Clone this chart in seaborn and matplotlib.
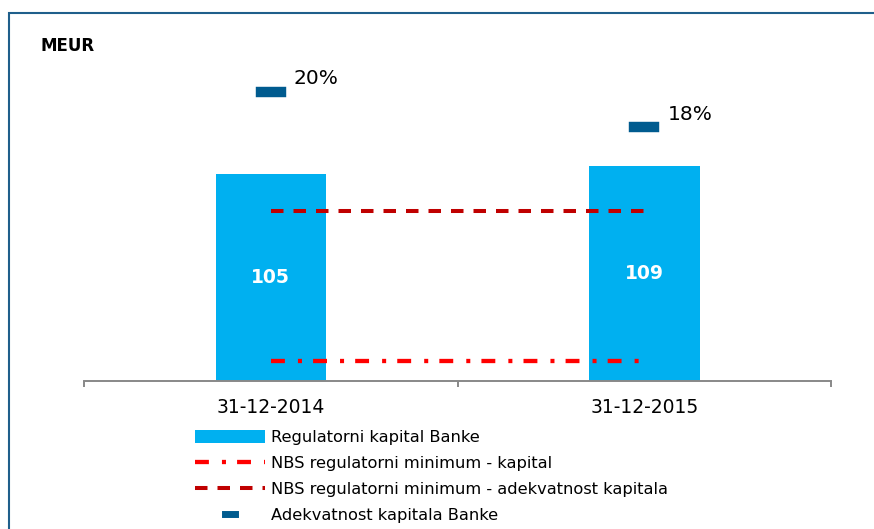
import numpy as np
import pandas as pd
import seaborn as sns
import matplotlib.pyplot as plt
from matplotlib.markers import MarkerStyle
from matplotlib.patches import Rectangle

# values
dates = ['31-12-2014', '31-12-2015']
kapital = [105, 109]              # MEUR, left axis
nbs_min_kapital = [10, 10]        # MEUR, left axis
nbs_min_adekvatnost = [12, 12]    # %, right axis
adekvatnost = [20.4, 17.9]        # %, right axis

legend_labels = ['Regulatorni kapital Banke',
                 'NBS regulatorni minimum - kapital',
                 'NBS regulatorni minimum - adekvatnost kapitala',
                 'Adekvatnost kapitala Banke']

sns.set_style('white')
plt.rcParams['font.family'] = ['DejaVu Sans']
plt.rcParams['lines.scale_dashes'] = False
plt.rcParams['text.color'] = 'black'
plt.rcParams['xtick.color'] = 'black'

df = pd.DataFrame({'datum': dates, 'kapital': kapital, 'min_kap': nbs_min_kapital,
                   'min_adek': nbs_min_adekvatnost, 'adek': adekvatnost})

fig = plt.figure(figsize=(8.74, 5.29), dpi=100)
ax = fig.add_axes([0.0961, 0.2798, 0.855, 0.6446])
ax2 = ax.twinx()

# bars - regulatory capital
sns.barplot(data=df, x='datum', y='kapital', ax=ax, color='#00B0F0',
            saturation=1, width=0.295, linewidth=0, errorbar=None)
bars = ax.containers[0]
ax.bar_label(bars, labels=[str(v) for v in kapital], label_type='center',
             color='white', fontweight='bold', fontsize=13.5)

# NBS minimum capital (dash-dot)
sns.pointplot(data=df, x='datum', y='min_kap', ax=ax, color='#FF0000',
              marker='', linestyle=(0, (10, 9.4, 2.9, 8)), linewidth=3.1,
              errorbar=None)
line_kap = ax.lines[-1]

# NBS minimum adequacy (dashed)
sns.pointplot(data=df, x='datum', y='min_adek', ax=ax2, color='#C00000',
              marker='', linestyle=(0, (9, 7.2)), linewidth=2.9,
              errorbar=None)
line_adek_min = ax2.lines[-1]

# bank capital adequacy markers
sns.pointplot(data=df, x='datum', y='adek', ax=ax2, color='#005B8F',
              linestyle='none', marker=MarkerStyle('_', capstyle='projecting'),
              markersize=14.6, markeredgewidth=7.5, errorbar=None)
line_adek = ax2.lines[-1]

for i, v in enumerate(adekvatnost):
    ax2.annotate(f'{v:.0f}%', xy=(i, v), xytext=(16.6, 9.4),
                 textcoords='offset points', ha='left', va='center',
                 fontsize=14.5, color='black')

# axes limits and ticks
ax.set_xlim(-0.5, len(dates) - 0.5)
ax.set_ylim(0, 173.0)
ax2.set_ylim(0, 24.07)
ax.set_xticks(np.arange(len(dates) + 1) - 0.5, labels=[''] * (len(dates) + 1))
ax.set_xticks(np.arange(len(dates)), labels=dates, minor=True)
ax.tick_params(axis='x', which='major', bottom=True, length=4.3, width=1.4,
               color='#888888', direction='out')
ax.tick_params(axis='x', which='minor', bottom=True, length=0, pad=12,
               labelsize=13.5, labelcolor='black')
ax.tick_params(axis='y', left=False, labelleft=False)
ax2.tick_params(axis='y', right=False, labelright=False)
ax.set_xlabel('')
ax.set_ylabel('')
ax2.set_ylabel('')

for a in (ax, ax2):
    for s in ['top', 'left', 'right']:
        a.spines[s].set_visible(False)
ax2.spines['bottom'].set_visible(False)
ax.spines['bottom'].set_color('#888888')
ax.spines['bottom'].set_linewidth(1.4)

fig.text(40 / 874, 1 - 46 / 529, 'MEUR', fontweight='bold', fontsize=12,
         va='center', ha='left', color='black')

leg = fig.legend([bars, line_kap, line_adek_min, line_adek], legend_labels,
                 loc='upper left', bbox_to_anchor=(195 / 874, 1 - 430 / 529),
                 frameon=False, fontsize=11.7, handlelength=4.3,
                 handletextpad=0.37, labelspacing=0.66, borderpad=0,
                 borderaxespad=0, handleheight=0.85, labelcolor='black')
leg.legend_handles[3].set_markersize(6.5)
leg.legend_handles[3].set_markeredgewidth(5)

# frame of the slide (top and left only)
fig.add_artist(Rectangle((8.5 / 874, -0.05), 1.0, (529 - 12.5) / 529 + 0.05,
                         transform=fig.transFigure, fill=False,
                         edgecolor='#1F5F8B', linewidth=1.5))

fig.savefig('out.png', dpi=100)
